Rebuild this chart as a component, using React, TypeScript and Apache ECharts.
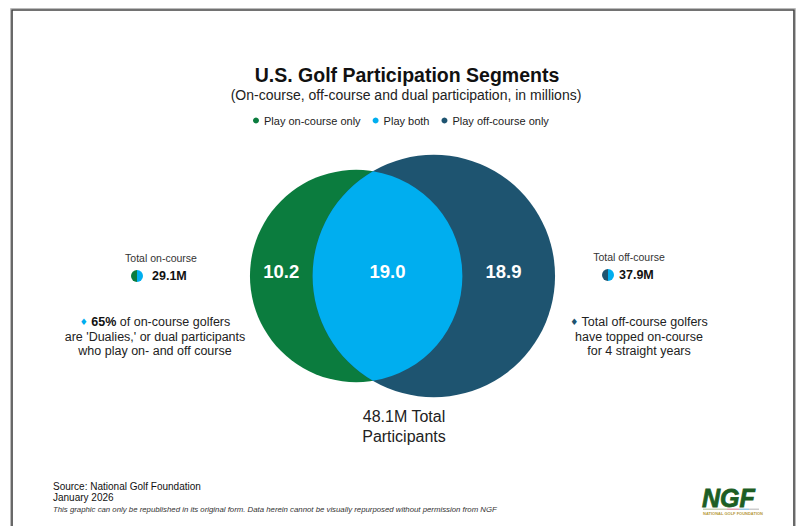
import React, { useEffect, useRef } from 'react';
import * as echarts from 'echarts';

// ---- data ----
const segmentNames = ['Play on-course only', 'Play both', 'Play off-course only'];
const segmentValues = [10.2, 19.0, 18.9];
const totalNames = ['Total on-course', 'Total off-course'];
const totalValues = [29.1, 37.9];
const grandTotal = 48.1;
const titleText = 'U.S. Golf Participation Segments';
const subtitleText = '(On-course, off-course and dual participation, in millions)';
const leftNote = ['65%', ' of on-course golfers', "are 'Dualies,' or dual participants", 'who play on- and off course'];
const rightNote = ['Total off-course golfers', 'have topped on-course', 'for 4 straight years'];
const sourceLines = ['Source: National Golf Foundation', 'January 2026'];
const disclaimer = 'This graphic can only be republished in its original form. Data herein cannot be visually repurposed without permission from NGF';

// ---- styles ----
const COLORS = ['#0b7c3e', '#00aeef', '#1e5470'];
const FONT = '"Liberation Sans", Arial, Helvetica, sans-serif';
const W = 798;
const H = 526;
const K = 34.9; // px per unit (sqrt of millions / pi)
const CX = 402.5;
const CY = 276;

// ---- area-proportional geometry ----
function lensArea(r1: number, r2: number, d: number) {
  if (d >= r1 + r2) return 0;
  if (d <= Math.abs(r1 - r2)) return Math.PI * Math.min(r1, r2) ** 2;
  const a1 = Math.acos((d * d + r1 * r1 - r2 * r2) / (2 * d * r1));
  const a2 = Math.acos((d * d + r2 * r2 - r1 * r1) / (2 * d * r2));
  const t = Math.sqrt((-d + r1 + r2) * (d + r1 - r2) * (d - r1 + r2) * (d + r1 + r2));
  return r1 * r1 * a1 + r2 * r2 * a2 - 0.5 * t;
}
function solveDistance(r1: number, r2: number, overlap: number) {
  let lo = Math.abs(r1 - r2);
  let hi = r1 + r2;
  for (let i = 0; i < 80; i++) {
    const mid = (lo + hi) / 2;
    if (lensArea(r1, r2, mid) > overlap) lo = mid;
    else hi = mid;
  }
  return (lo + hi) / 2;
}
const R = totalValues.map((v) => Math.sqrt(v / Math.PI));
const D = solveDistance(R[0], R[1], segmentValues[1]);
const c1 = (R[0] - R[1] - D) / 2;
const c2 = c1 + D;
const labelX = [
  (c1 - R[0] + (c2 - R[1])) / 2,
  (c2 - R[1] + (c1 + R[0])) / 2,
  (c1 + R[0] + (c2 + R[1])) / 2 - 0.15,
];

function valueText(x: number, y: number, v: number) {
  return {
    type: 'text',
    x,
    y: y - 5,
    style: {
      text: v.toFixed(1),
      fill: '#ffffff',
      font: `bold 18.5px ${FONT}`,
      align: 'center',
      verticalAlign: 'middle',
    },
  };
}

function txt(x: number, y: number, text: string, font: string, fill = '#222', align = 'center', extra: any = {}) {
  return {
    type: 'text',
    x,
    y,
    style: { text, font, fill, align, verticalAlign: 'middle', ...extra },
  };
}

function halfIcon(cx: number, cy: number, left: string, right: string) {
  return [
    { type: 'sector', shape: { cx, cy, r: 6, startAngle: Math.PI / 2, endAngle: (3 * Math.PI) / 2 }, style: { fill: left } },
    { type: 'sector', shape: { cx, cy, r: 6, startAngle: -Math.PI / 2, endAngle: Math.PI / 2 }, style: { fill: right } },
  ];
}

export default function App() {
  const ref = useRef<HTMLDivElement>(null);
  useEffect(() => {
    if (!ref.current) return;
    const chart = echarts.init(ref.current, null, { renderer: 'svg' });

    const circleSeries = (idx: number, cx: number, r: number, lx: number) => ({
      type: 'custom',
      name: segmentNames[idx],
      coordinateSystem: 'cartesian2d',
      clip: false,
      itemStyle: { color: COLORS[idx] },
      data: [[cx, 0, r, lx, segmentValues[idx]]],
      renderItem: (_p: any, api: any) => {
        const c = api.coord([api.value(0), api.value(1)]);
        const rr = api.size([api.value(2), 0])[0];
        const l = api.coord([api.value(3), api.value(1)]);
        return {
          type: 'group',
          children: [
            { type: 'circle', shape: { cx: c[0], cy: c[1], r: rr }, style: { fill: COLORS[idx] } },
            valueText(l[0], l[1], api.value(4)),
          ],
        };
      },
    });

    const lensSeries = {
      type: 'custom',
      name: segmentNames[1],
      coordinateSystem: 'cartesian2d',
      clip: false,
      itemStyle: { color: COLORS[1] },
      data: [[c1, c2, R[0], R[1], labelX[1], segmentValues[1]]],
      renderItem: (_p: any, api: any) => {
        const p1 = api.coord([api.value(0), 0]);
        const p2 = api.coord([api.value(1), 0]);
        const r1 = api.size([api.value(2), 0])[0];
        const r2 = api.size([api.value(3), 0])[0];
        const d = p2[0] - p1[0];
        const a = (d * d + r1 * r1 - r2 * r2) / (2 * d);
        const h = Math.sqrt(r1 * r1 - a * a);
        const ix = p1[0] + a;
        const cy = p1[1];
        const pathData = `M ${ix} ${cy - h} A ${r2} ${r2} 0 0 0 ${ix} ${cy + h} A ${r1} ${r1} 0 0 0 ${ix} ${cy - h} Z`;
        const l = api.coord([api.value(4), 0]);
        return {
          type: 'group',
          children: [
            { type: 'path', shape: { pathData }, style: { fill: COLORS[1] } },
            valueText(l[0], l[1], api.value(5)),
          ],
        };
      },
    };

    const graphic: any[] = [
      { type: 'rect', shape: { x: 10.5, y: 8.5, width: 785, height: 540 }, style: { fill: 'none', stroke: '#bbbbbb', lineWidth: 1 } },
      { type: 'rect', shape: { x: 12, y: 10, width: 782, height: 540 }, style: { fill: 'none', stroke: '#444444', lineWidth: 1.6 } },
      txt(407, 75, titleText, `bold 19.5px ${FONT}`, '#111'),
      txt(406, 95, subtitleText, `14px ${FONT}`, '#222'),
      // left totals
      txt(161, 258, totalNames[0], `10.5px ${FONT}`, '#333'),
      ...halfIcon(137, 276, COLORS[0], COLORS[1]),
      txt(152, 276, `${totalValues[0].toFixed(1)}M`, `bold 12.5px ${FONT}`, '#111', 'left'),
      {
        type: 'text',
        x: 155,
        y: 322,
        style: {
          text: `{d|\u2666} {b|${leftNote[0]}}${leftNote[1]}`,
          font: `12.5px ${FONT}`,
          fill: '#222',
          align: 'center',
          verticalAlign: 'middle',
          rich: {
            d: { fill: COLORS[1], fontSize: 9, fontFamily: 'DejaVu Sans' },
            b: { fontWeight: 'bold', fontSize: 12.5, fontFamily: FONT, fill: '#111' },
          },
        },
      },
      txt(155, 337, leftNote[2], `12.5px ${FONT}`),
      txt(155, 351, leftNote[3], `12.5px ${FONT}`),
      // right totals
      txt(629, 257, totalNames[1], `10.5px ${FONT}`, '#333'),
      ...halfIcon(608, 275, COLORS[2], COLORS[1]),
      txt(619, 275, `${totalValues[1].toFixed(1)}M`, `bold 12.5px ${FONT}`, '#111', 'left'),
      {
        type: 'text',
        x: 639,
        y: 322,
        style: {
          text: `{d|\u2666} ${rightNote[0]}`,
          font: `12.5px ${FONT}`,
          fill: '#222',
          align: 'center',
          verticalAlign: 'middle',
          rich: { d: { fill: COLORS[2], fontSize: 9, fontFamily: 'DejaVu Sans' } },
        },
      },
      txt(639, 337, rightNote[1], `12.5px ${FONT}`),
      txt(639, 351, rightNote[2], `12.5px ${FONT}`),
      // total participants
      txt(404, 416, `${grandTotal.toFixed(1)}M Total`, `16px ${FONT}`, '#222'),
      txt(404, 436, 'Participants', `16px ${FONT}`, '#222'),
      // source
      txt(53, 486, sourceLines[0], `10px ${FONT}`, '#111', 'left'),
      txt(53, 497, sourceLines[1], `10px ${FONT}`, '#111', 'left'),
      txt(53, 509, disclaimer, `italic 7.8px ${FONT}`, '#333', 'left'),
      // NGF logo
      {
        type: 'text',
        x: 702,
        y: 498,
        style: {
          text: 'NGF',
          font: `italic bold 25px ${FONT}`,
          fill: '#1d5e24',
          stroke: '#1d5e24',
          lineWidth: 0.8,
          align: 'left',
          verticalAlign: 'middle',
        },
      },
      { type: 'rect', shape: { x: 703, y: 508.5, width: 24, height: 1.5 }, style: { fill: '#c9d2b8' } },
      { type: 'rect', shape: { x: 727, y: 508.5, width: 12, height: 1.5 }, style: { fill: '#e7a3b5' } },
      { type: 'rect', shape: { x: 739, y: 508.5, width: 10, height: 1.5 }, style: { fill: '#9ccbe9' } },
      { type: 'rect', shape: { x: 749, y: 508.5, width: 10, height: 1.5 }, style: { fill: '#cccccc' } },
      txt(703, 513, 'NATIONAL GOLF FOUNDATION', `bold 4px ${FONT}`, '#b59a3a', 'left'),
    ];

    chart.setOption({
      animation: false,
      backgroundColor: '#ffffff',
      grid: { left: 0, right: 0, top: 0, bottom: 0 },
      xAxis: { type: 'value', min: -CX / K, max: (W - CX) / K, show: false },
      yAxis: { type: 'value', min: -(H - CY) / K, max: CY / K, show: false },
      legend: {
        data: segmentNames,
        left: 248,
        top: 110,
        icon: 'circle',
        itemWidth: 6,
        itemHeight: 6,
        itemGap: 12,
        selectedMode: false,
        textStyle: { fontSize: 11, color: '#222', fontFamily: FONT },
      },
      series: [circleSeries(0, c1, R[0], labelX[0]), circleSeries(2, c2, R[1], labelX[2]), lensSeries],
      graphic,
    });
    return () => chart.dispose();
  }, []);

  return <div ref={ref} style={{ position: 'absolute', left: 0, top: 0, width: W, height: H }} />;
}
